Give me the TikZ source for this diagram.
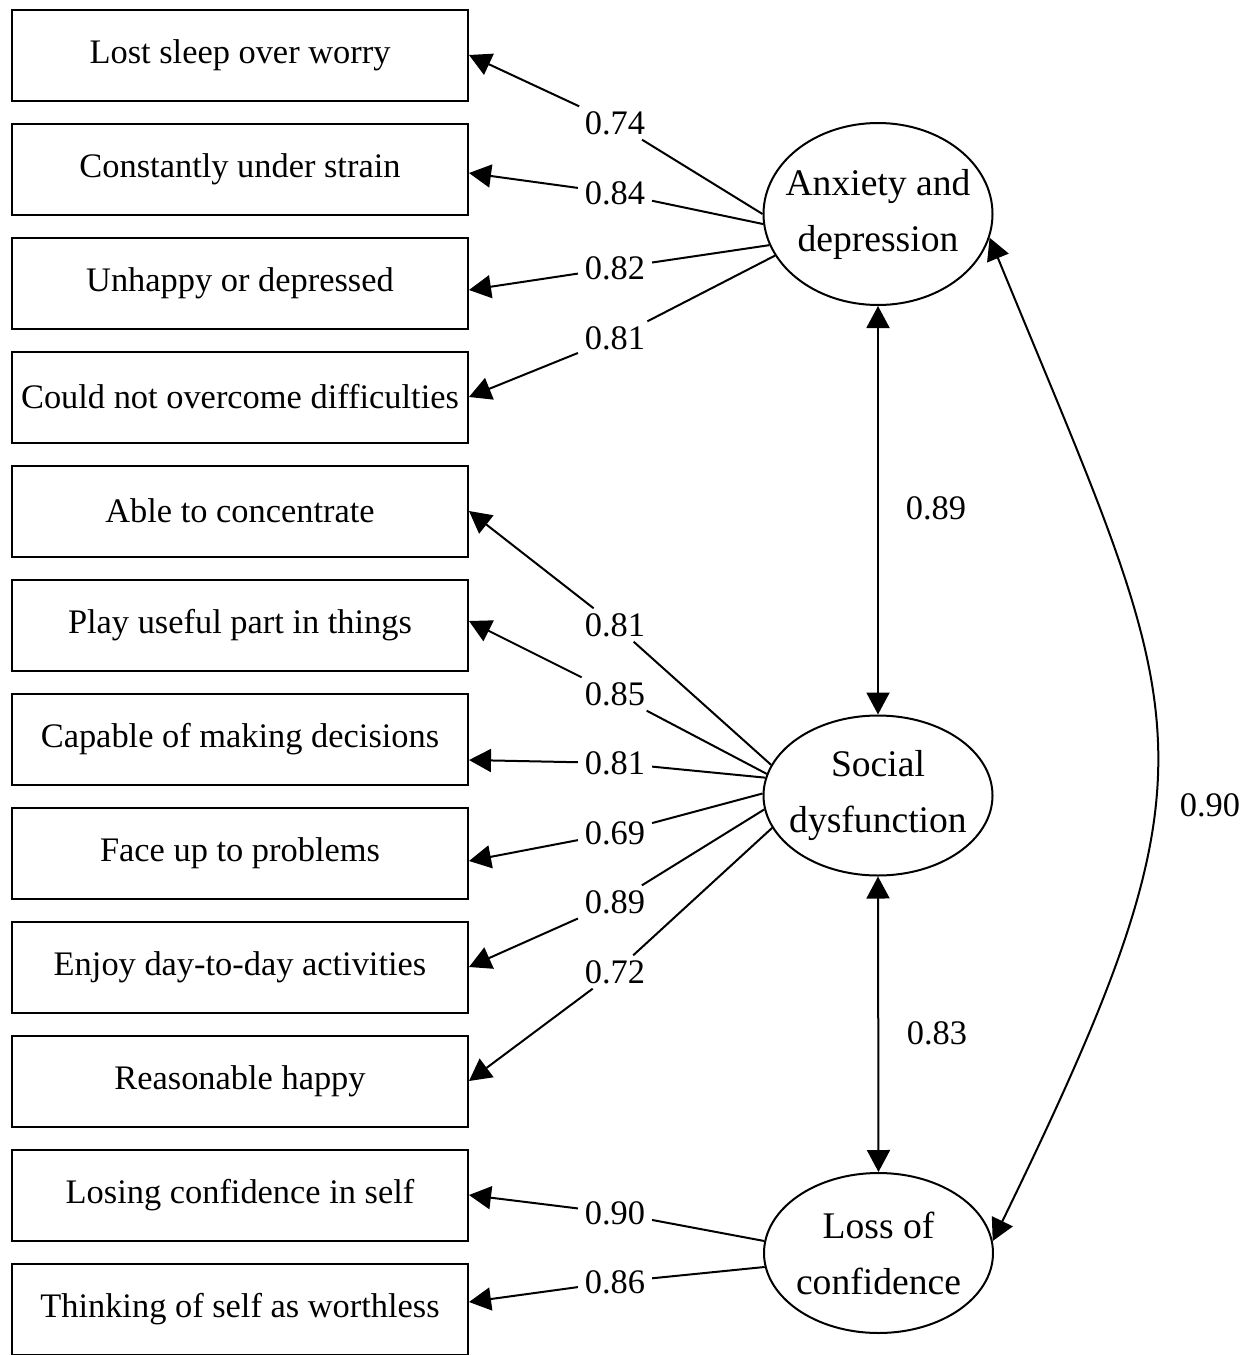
\documentclass[tikz,border=0pt]{standalone}
\usepackage{fontspec}
\setmainfont{Liberation Serif}
\usetikzlibrary{arrows.meta,shapes.geometric}

\begin{document}
\begin{tikzpicture}[x=0.5pt, y=-0.5pt, line width=1pt,
    font=\fontsize{17.2pt}{28pt}\selectfont,
    item/.style={draw, rectangle, minimum width=228pt, minimum height=45.5pt, inner sep=0pt},
    factor/.style={draw, ellipse, minimum width=114.5pt, minimum height=80pt, inner ysep=0pt, inner xsep=-6pt,
        align=center, font=\fontsize{18.8pt}{28pt}\selectfont},
    coef/.style={inner xsep=3pt, inner ysep=2pt},
    loadarrow/.style={-{Triangle[length=11pt, width=11.5pt]}},
    corarrow/.style={{Triangle[length=11pt, width=11.5pt]}-{Triangle[length=11pt, width=11.5pt]}}]
    \useasboundingbox (0,0) rectangle (1250,1355);

    % ITEMS (boxes on the left)
    \foreach \i/\t in {
        1/Lost sleep over worry, 2/Constantly under strain, 3/Unhappy or depressed,
        4/Could not overcome difficulties, 5/Able to concentrate, 6/Play useful part in things,
        7/Capable of making decisions, 8/Face up to problems, 9/Enjoy day-to-day activities,
        10/Reasonable happy, 11/Losing confidence in self, 12/Thinking of self as worthless
    } {
        \node[item] (b\i) at (240, {55+114*(\i-1)}) {\t};
    }

    % FACTORS
    \node[factor, minimum height=91pt] (anx) at (878, 214) {Anxiety and\\depression};
    \node[factor] (soc) at (878, 795.5) {Social\\dysfunction};
    \node[factor] (loss) at (878.5, 1253) {Loss of\\confidence};

    % LOADINGS (labels, then edges cut by the labels)
    \foreach \i/\y/\v in {
        1/123/0.74, 2/193/0.84, 3/268/0.82, 4/338/0.81,
        5/625/0.81, 6/694/0.85, 7/763/0.81, 8/833/0.69, 9/902/0.89, 10/972/0.72,
        11/1213/0.90, 12/1282/0.86
    } {
        \node[coef] (l\i) at (615, \y) {\v};
    }
    \foreach \f/\a/\i/\d in {
        anx/180/1/0, anx/185/2/-2, anx/196/3/-3.5, anx/202/4/0,
        soc/164/5/0, soc/169/6/2, soc/171/7/-10.5, soc/179/8/-4, soc/187/9/0, soc/197/10/0,
        loss/174.5/11/0, loss/187/12/3.5
    } {
        \draw[loadarrow] (\f.\a) -- (l\i) -- ([yshift=\d pt]b\i.east);
    }

    % CORRELATIONS BETWEEN FACTORS
    \draw[corarrow] (anx.south) -- (soc.north);
    \node (r1) at (936, 508) {0.89};
    \draw[corarrow] (soc.south) -- (loss.north);
    \node (r2) at (937, 1033) {0.83};
    \draw[corarrow] (anx.-12) .. controls (1190,726) and (1231,752) .. (loss.6);
    \node (r3) at (1210, 805) {0.90};

\end{tikzpicture}
\end{document}
